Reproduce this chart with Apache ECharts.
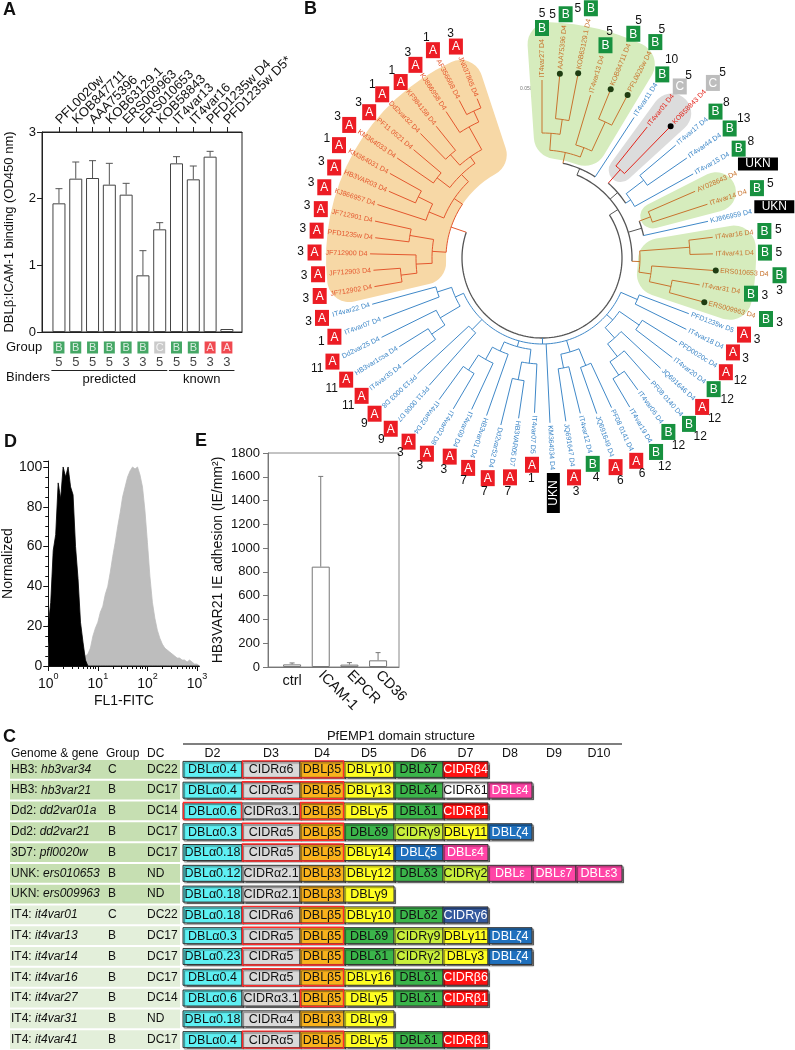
<!DOCTYPE html>
<html><head><meta charset="utf-8">
<script src="https://cdn.jsdelivr.net/npm/echarts@6/dist/echarts.min.js"></script>
<style>html,body{margin:0;padding:0;background:#fff}#c{width:795px;height:1050px}</style>
</head><body><div id="c"></div><script>
// ---------------- Panel A data ----------------
const aNames = ['PFL0020w','KOB847711','AAA75396','KOB63129.1','ERS009963','ERS010653','KOB58843','IT4var13','IT4var16','PFD1235w D4','PFD1235w D5*'];
const aValues = [1.93,2.30,2.31,2.21,2.06,0.85,1.54,2.53,2.29,2.63,0.045];
const aErrTop = [2.15,2.55,2.57,2.53,2.23,1.22,1.64,2.63,2.49,2.71,0.045];
const aGroups = ['B','B','B','B','B','B','C','B','B','A','A'];
const aDbl = [5,5,5,5,3,3,5,5,5,3,3];
const aRows = ['Group','DBL\u03b2','Binders'];
const aBinders = [['predicted',0,6],['known',7,10]];

// ---------------- Panel B data ----------------
const leafNames = ['IT4var27 D4','AAA75396 D4','KOB63129.1 D4','IT4var13 D4','KOB84711 D4','PFL0020w D4','IT4var11 D4','IT4var01 D4','KOB58843 D4','IT4var17 D4',
'IT4var44 D4','IT4var15 D4','AY028643 D4','IT4var14 D4','KJ866959 D4','IT4var16 D4','IT4var41 D4','ERS010653 D4','IT4var31 D4','ERS009963 D4',
'PFD1235w D5','IT4var18 D4','PFD0020c D4','IT4var20 D4','JQ691646 D4','PF08 0140 D4','IT4var06 D4','IT4var19 D4','PF08 0141 D4','JQ691649 D4',
'IT4var12 D4','JQ691647 D4','KM364034 D4','IT4var07 D5','HB3VAR05 D7','Dd2var52 D4','HB3var01 D4','IT4var09 D4','IT4var02 D8','IT4var02 D4',
'PF11 0008 D7','PF13 0003 D8','IT4var35 D4','HB3var1csa D4','Dd2var25 D4','IT4var07 D4','IT4var22 D4','JF712902 D4','JF712903 D4','JF712900 D4',
'PFD1235w D4','JF712901 D4','KJ866957 D4','HB3VAR03 D4','KM364031 D4','KM364033 D4','PF11 0521 D4','Dd2var32 D4','KF984158 D4','KJ866958 D4',
'AF356668 D4','JN037805 D4'];
const leafGroups = ['B','B','B','B','B','B','B','C','C','B', 'B','B','U','B','U','B','B','B','B','B',
'A','A','A','B','A','B','B','B','A','A', 'B','A','U','A','A','A','A','A','A','A',
'A','A','A','A','A','A','A','A','A','A', 'A','A','A','A','A','A','A','A','A','A', 'A','A'];
const leafNums = [5,5,5,5,5,5,10,5,5,8, 13,8,0,5,0,5,5,3,3,3, 3,3,12,12,12,12,12,12,6,6, 4,3,0,1,7,7,7,3,3,3,
9,9,11,11,11,1,3,3,3,3, 3,3,3,3,1,3,3,1,1,3, 1,3];
const leafClass = ['g','g','g','g','g','g','b','r','r','b', 'b','b','g','g','b','g','g','g','g','g',
'b','b','b','b','b','b','b','b','b','b', 'b','b','b','b','b','b','b','b','b','b',
'b','b','b','b','b','b','b','o','o','o', 'o','o','o','o','o','o','o','o','o','o', 'o','o'];
const tipR = [178,183,186,170,180,182,168,168,182,175, 176,173,167,174,170,172,171,172,160,166,
157,161,159,164,162,163,163,173,165,165, 160,165,165,155,162,172,167,167,175,175,
170,170,175,168,179,170,176,170,169,172, 168,171,173,167,174,176,168,174,169,175, 178,172];
const dotLeaves = [2,3,5,6,9,18,20];
// nested tree: [node radius, children...]; plain numbers are leaf ids
const tree = [80,
  [90, [97, [108, [125, 1, [140, 2, 3]], [118, 4, [150, 5, 6]]], 7],
       [100, [118, 8, 9], [106, [128, 10, 11], 12]],
       [104, [116, 13, 14], 15],
       [98, [148, 16, 17], [110, 18, [132, 19, 20]]]],
  [86, [104, 21, 22],
       [94, [118, 23, 24], [108, 25, [124, 26, [140, 27, 28]]]],
       [98, [116, 29, 30], [112, 31, 32]],
       33,
       [92, [106, 34, [124, 35, 36]], [102, 37, [116, 38, [134, 39, 40]]]],
       [100, 41, 42],
       [95, [118, [134, 43, 44], 45], [110, 46, 47]]],
  [96, [110, [126, [142, 48, 49], 50], [134, 51, 52]],
       [106, [122, 53, [138, 54, 55]], [116, [132, 56, 57], [124, [138, 58, 59], [150, 60, [162, 61, 62]]]]]]
];
// clade shading: [inner r, from slot, outer r, to slot, colour index]
const cladeBlobs = [[96,46.4,216,61.7,0],[100,-0.7,236,5.6,1],[106,6.5,214,8.6,2],[106,11.4,206,13.6,1],[96,14.5,214,19.6,1]];

// ---------------- Panel D data ----------------
const dX = [0.00,0.05,0.10,0.15,0.20,0.25,0.30,0.35,0.40,0.45,0.50,0.55,0.60,0.65,0.70,0.75,0.80,0.85,0.90,0.95,
1.00,1.05,1.10,1.15,1.20,1.25,1.30,1.35,1.40,1.45,1.50,1.55,1.60,1.65,1.70,1.75,1.80,1.85,1.90,1.95,
2.00,2.05,2.10,2.15,2.20,2.25,2.30,2.35,2.40,2.45,2.50,2.55,2.60,2.65,2.70,2.75,2.80,2.85,2.90,2.95,3.00,3.05];
const dBlack = [20,32,58,66,92,84,100,95,100,90,86,60,44,22,12,3,0,0,0,0,
0,0,0,0,0,0,0,0,0,0,0,0,0,0,0,0,0,0,0,0, 0,0,0,0,0,0,0,0,0,0,0,0,0,0,0,0,0,0,0,0,0,0];
const dGray = [10,16,22,28,33,38,41,40,37,33,27,20,15,10,7,5,6,9,15,19,
22,27,30,36,40,47,55,62,70,77,85,90,95,98,100,99,100,96,90,78,
62,45,32,24,18,14,11,9,8,7,6,5,4,4,3,3,2,3,2,1,1,0];

// ---------------- Panel E data ----------------
const eNames = ['ctrl','ICAM-1','EPCR','CD36'];
const eValues = [22,844,20,56];
const eErrTop = [34,1603,37,121];

// ---------------- Panel C data ----------------
const cGenome = ['HB3','HB3','Dd2','Dd2','3D7','UNK','UKN','IT4','IT4','IT4','IT4','IT4','IT4','IT4'];
const cGene = ['hb3var34','hb3var21','dd2var01a','dd2var21','pfl0020w','ers010653','ers009963','it4var01','it4var13','it4var14','it4var16','it4var27','it4var31','it4var41'];
const cGroup = ['C','B','B','B','B','B','B','C','B','B','B','B','B','B'];
const cDC = ['DC22','DC17','DC14','DC17','DC17','ND','ND','DC22','DC17','DC17','DC17','DC14','ND','DC17'];
const cDomains = [
 ['DBL\u03b10.4','CIDR\u03b16','DBL\u03b25','DBL\u03b310','DBL\u03b47','CIDR\u03b24'],
 ['DBL\u03b10.4','CIDR\u03b15','DBL\u03b25','DBL\u03b313','DBL\u03b44','CIDR\u03b41','DBL\u03b54'],
 ['DBL\u03b10.6','CIDR\u03b13.1','DBL\u03b25','DBL\u03b35','DBL\u03b41','CIDR\u03b21'],
 ['DBL\u03b10.3','CIDR\u03b15','DBL\u03b25','DBL\u03b49','CIDR\u03b39','DBL\u03b311','DBL\u03b64'],
 ['DBL\u03b10.18','CIDR\u03b15','DBL\u03b25','DBL\u03b314','DBL\u03b65','DBL\u03b54'],
 ['DBL\u03b10.12','CIDR\u03b12.1','DBL\u03b23','DBL\u03b312','DBL\u03b43','CIDR\u03b32','DBL\u03b5','DBL\u03b57','DBL\u03b53'],
 ['DBL\u03b10.18','CIDR\u03b12.1','DBL\u03b23','DBL\u03b39'],
 ['DBL\u03b10.18','CIDR\u03b16','DBL\u03b25','DBL\u03b310','DBL\u03b42','CIDR\u03b36'],
 ['DBL\u03b10.3','CIDR\u03b15','DBL\u03b25','DBL\u03b49','CIDR\u03b39','DBL\u03b311','DBL\u03b64'],
 ['DBL\u03b10.23','CIDR\u03b15','DBL\u03b25','DBL\u03b41','CIDR\u03b32','DBL\u03b33','DBL\u03b64'],
 ['DBL\u03b10.4','CIDR\u03b15','DBL\u03b25','DBL\u03b316','DBL\u03b41','CIDR\u03b26'],
 ['DBL\u03b10.6','CIDR\u03b13.1','DBL\u03b25','DBL\u03b35','DBL\u03b41','CIDR\u03b21'],
 ['DBL\u03b10.18','CIDR\u03b14','DBL\u03b23','DBL\u03b39'],
 ['DBL\u03b10.4','CIDR\u03b15','DBL\u03b25','DBL\u03b35','DBL\u03b41','CIDR\u03b21']
];
const cRedSpans = [[[1,2]],[[1,2]],[[0,0],[2,2]],[[1,2]],[[1,2]],[],[],[[1,2]],[[1,2]],[[1,2]],[[1,2]],[[2,2]],[],[[1,2]]];
const cColHeads = ['D2','D3','D4','D5','D6','D7','D8','D9','D10'];

// ---------------- styles / layout ----------------
const FF = "'Liberation Sans', Arial, Helvetica, sans-serif";
const FN = "'Liberation Sans Narrow', 'Arial Narrow', 'Liberation Sans', sans-serif";
const GC = {A:'#ec1c24', B:'#17913f', C:'#bdbdbd'};
const CLS = {o:'#e4572e', g:'#c8742e', b:'#3f88c8', r:'#e3241b', k:'#555555'};
const CLS_IDX = ['o','g','b','r','k'];
const BLOB_COL = ['#f7d8a6','#d6ecbd','#dcdcdc'];
const colEdges = [0,59,117,161,211,260,305,349,393,439];
const LEFT_FS = 12;
function domStyle(n){
  if (n === 'CIDR\u03b36') return ['#34599e','#fff'];
  const map = [['DBL\u03b1','#5ef0f3','#111'],['CIDR\u03b1','#d9d9d9','#111'],['DBL\u03b2','#f9b21c','#111'],['DBL\u03b3','#ffff22','#111'],
    ['DBL\u03b4','#3bb54a','#111'],['CIDR\u03b2','#ff1111','#fff'],['CIDR\u03b4','#ffffff','#111'],['DBL\u03b5','#ff45a6','#fff'],
    ['DBL\u03b6','#1f70bd','#fff'],['CIDR\u03b3','#c9f03c','#111']];
  for (const m of map) if (n.indexOf(m[0]) === 0) return [m[1], m[2]];
  return ['#fff','#111'];
}
const mctx = document.createElement('canvas').getContext('2d');
function textW(t, size, fam){ mctx.font = size + 'px ' + fam; return mctx.measureText(t).width; }

// tree -> segments
const segs = [];
function lay(node){
  if (typeof node === 'number') { const k = node - 1; return {a:k, r:tipR[k], cls:leafClass[k]}; }
  const r = node[0];
  const kids = node.slice(1).map(lay);
  const a1 = kids[0].a, a2 = kids[kids.length-1].a;
  const cls = kids.every(c => c.cls === kids[0].cls) ? kids[0].cls : 'k';
  segs.push([r, a1, r, a2, CLS_IDX.indexOf(cls), 1]);
  kids.forEach(c => segs.push([r, c.a, c.r, c.a, CLS_IDX.indexOf(c.cls), 0]));
  return {a:(a1+a2)/2, r:r, cls:cls};
}
lay(tree);

function errItem(color, cap){
  return function(params, api){
    const b = api.coord([api.value(0), api.value(1)]);
    const t = api.coord([api.value(0), api.value(2)]);
    if (t[1] >= b[1] - 0.5) return null;
    return {type:'group', children:[
      {type:'line', shape:{x1:b[0],y1:b[1],x2:t[0],y2:t[1]}, style:{stroke:color,lineWidth:1}},
      {type:'line', shape:{x1:t[0]-cap,y1:t[1],x2:t[0]+cap,y2:t[1]}, style:{stroke:color,lineWidth:1}}
    ]};
  };
}

function blobItem(params, api){
  const c = api.coord([0, 0]);
  const p0 = api.coord([api.value(0), api.value(1)]);
  const p1 = api.coord([api.value(2), api.value(3)]);
  const r0 = Math.hypot(p0[0]-c[0], p0[1]-c[1]);
  const r1 = Math.hypot(p1[0]-c[0], p1[1]-c[1]);
  let s = Math.atan2(p0[1]-c[1], p0[0]-c[0]);
  let e = Math.atan2(p1[1]-c[1], p1[0]-c[0]);
  if (e < s) e += Math.PI * 2;
  return {type:'sector', shape:{cx:c[0], cy:c[1], r0:r0, r:r1, startAngle:s, endAngle:e, clockwise:true, cornerRadius:Math.min(22,(r1-r0)/2-1)},
    style:{fill:BLOB_COL[api.value(4)]}};
}
function treeItem(params, api){
  const r1 = api.value(0), a1 = api.value(1), r2 = api.value(2), a2 = api.value(3);
  const col = CLS[CLS_IDX[api.value(4)]];
  if (api.value(5) === 0) {
    const p = api.coord([r1, a1]), q = api.coord([r2, a2]);
    return {type:'line', shape:{x1:p[0],y1:p[1],x2:q[0],y2:q[1]}, style:{stroke:col, lineWidth:1}};
  }
  const n = Math.max(2, Math.ceil(Math.abs(a2 - a1) * 3));
  const pts = [];
  for (let j = 0; j <= n; j++) pts.push(api.coord([r1, a1 + (a2 - a1) * j / n]));
  return {type:'polyline', shape:{points:pts}, style:{stroke:col, lineWidth: col === CLS.k ? 1.3 : 1, fill:null}};
}
function leafItem(params, api){
  const tr = api.value(0), s = api.value(1), k = api.value(2);
  const c = api.coord([0, s]);
  const far = api.coord([100, s]);
  const ang = Math.atan2(far[1]-c[1], far[0]-c[0]);
  const th = ((ang * 180 / Math.PI) + 90 + 720) % 360;
  const out = th < 230;
  const dot = dotLeaves.indexOf(k + 1) >= 0;
  const off = dot ? 6.5 : 2.5;
  const lp = api.coord([tr + off, s]);
  const name = leafNames[k];
  const w = textW(name, 7, FF);
  const ch = [];
  if (dot) {
    const dp = api.coord([tr + 2.2, s]);
    ch.push({type:'circle', shape:{cx:dp[0], cy:dp[1], r:3}, style:{fill: leafClass[k] === 'r' ? '#000' : '#1f3d12'}});
  }
  ch.push({type:'text', x:lp[0], y:lp[1], rotation: out ? -ang : Math.PI - ang,
    style:{text:name, fill:CLS[leafClass[k]], fontSize:7, fontFamily:FF, align: out ? 'left' : 'right', verticalAlign:'middle'}});
  const endR = tr + off + w;
  const g = leafGroups[k];
  if (g === 'U') {
    const vert = Math.abs(Math.sin(ang)) > 0.8;
    const bp = api.coord([endR + 23, s]);
    const bw = vert ? 13 : 40, bh = vert ? 40 : 13;
    ch.push({type:'rect', shape:{x:bp[0]-bw/2, y:bp[1]-bh/2, width:bw, height:bh}, style:{fill:'#000'}});
    ch.push({type:'text', x:bp[0], y:bp[1], rotation: vert ? Math.PI/2 : 0,
      style:{text:'UKN', fill:'#fff', fontSize:12, fontFamily:FF, align:'center', verticalAlign:'middle'}});
  } else {
    const br = endR + 11;
    const bp = api.coord([br, s]);
    ch.push({type:'rect', shape:{x:bp[0]-7, y:bp[1]-8, width:14, height:16}, style:{fill:GC[g]}});
    ch.push({type:'text', x:bp[0], y:bp[1]+0.5, style:{text:g, fill:'#fff', fontSize:12, fontFamily:FF, align:'center', verticalAlign:'middle'}});
    const n = leafNums[k];
    if (n) {
      let np = api.coord([br + (n > 9 ? 17 : 14), s]);
      if (np[1] < 8) np = [bp[0] - 13, bp[1]];
      if (np[0] > 789) np = [bp[0], bp[1] + 15];
      ch.push({type:'text', x:np[0], y:np[1], style:{text:String(n), fill:'#111', fontSize:12, fontFamily:FF, align:'center', verticalAlign:'middle'}});
    }
  }
  return {type:'group', children:ch};
}
function rowItem(params, api){
  const i = api.value(1);
  const p0 = api.coord([0, i]);
  const rowH = api.coord([0, 1])[1] - api.coord([0, 0])[1];
  const x0 = p0[0], yc = p0[1];
  const left = api.coord([-173, i])[0];
  const ch = [];
  ch.push({type:'rect', shape:{x:left, y:yc-rowH/2+1, width:x0-3-left, height:rowH-2}, style:{fill: i < 7 ? '#c6dfb2' : '#e3efda'}});
  ch.push({type:'text', x:left+1, y:yc, style:{text:'{n|' + cGenome[i] + ': }{i|' + cGene[i] + '}',
    rich:{n:{fontSize:LEFT_FS, fontFamily:FN, fill:'#111'}, i:{fontSize:LEFT_FS, fontFamily:FN, fontStyle:'italic', fill:'#111'}}, verticalAlign:'middle', align:'left'}});
  const gx = api.coord([-75, i])[0], dx = api.coord([-36, i])[0];
  ch.push({type:'text', x:gx, y:yc, style:{text:cGroup[i], fontSize:LEFT_FS, fontFamily:FN, fill:'#111', verticalAlign:'middle'}});
  ch.push({type:'text', x:dx, y:yc, style:{text:cDC[i], fontSize:LEFT_FS, fontFamily:FN, fill:'#111', verticalAlign:'middle'}});
  cDomains[i].forEach((d, j) => {
    const xa = api.coord([colEdges[j], i])[0], xb = api.coord([colEdges[j+1], i])[0];
    const st = domStyle(d);
    ch.push({type:'rect', shape:{x:xa, y:yc-8, width:xb-xa, height:16},
      style:{fill:st[0], stroke:'#333', lineWidth:1, shadowColor:'rgba(0,0,0,0.45)', shadowOffsetX:1.5, shadowOffsetY:1.5, shadowBlur:1}});
    ch.push({type:'text', x:(xa+xb)/2, y:yc+0.5, style:{text:d, fill:st[1], fontSize:12.5, fontFamily:FN, align:'center', verticalAlign:'middle'}});
  });
  cRedSpans[i].forEach(sp => {
    const xa = api.coord([colEdges[sp[0]], i])[0], xb = api.coord([colEdges[sp[1]+1], i])[0];
    ch.push({type:'rect', shape:{x:xa+0.5, y:yc-8.5, width:xb-xa-1, height:17}, style:{fill:null, stroke:'#ff2a2a', lineWidth:1.4}});
  });
  return {type:'group', children:ch};
}

const tickAll = aNames.map((_, i) => i);
const minorLog = [];
for (let d = 0; d < 3; d++) for (let m = 2; m <= 9; m++) minorLog.push(d + Math.log10(m));
const noSplit = {show:false};

const graphic = [
  {type:'text', left:520, top:86, style:{text:'0.050', fontSize:5, fill:'#777', fontFamily:FF}},
  {type:'line', shape:{x1:534,y1:83,x2:534,y2:96}, style:{stroke:'#888', lineWidth:0.8}},
  {type:'line', shape:{x1:531,y1:83,x2:534,y2:83}, style:{stroke:'#888', lineWidth:0.8}},
  {type:'line', shape:{x1:531,y1:96,x2:534,y2:96}, style:{stroke:'#888', lineWidth:0.8}},
  {type:'text', x:401, y:736, style:{text:'PfEMP1 domain structure', fontSize:13, fontFamily:FN, fill:'#111', align:'center', verticalAlign:'middle'}},
  {type:'line', shape:{x1:183,y1:744,x2:622,y2:744}, style:{stroke:'#555', lineWidth:1.5}},
  {type:'text', x:11, y:754, style:{text:'Genome & gene', fontSize:LEFT_FS, fontFamily:FN, fill:'#111', verticalAlign:'middle'}},
  {type:'text', x:106, y:754, style:{text:'Group', fontSize:LEFT_FS, fontFamily:FN, fill:'#111', verticalAlign:'middle'}},
  {type:'text', x:147, y:754, style:{text:'DC', fontSize:LEFT_FS, fontFamily:FN, fill:'#111', verticalAlign:'middle'}}
];
cColHeads.forEach((h, j) => graphic.push({type:'text', x:183 + (colEdges[j] + colEdges[j+1]) / 2, y:754,
  style:{text:h, fontSize:12.5, fontFamily:FN, fill:'#111', align:'center', verticalAlign:'middle'}}));

const letter = (t, l, tp) => ({text:t, left:l, top:tp, padding:0, textStyle:{fontSize:18, fontWeight:'bold', color:'#111', fontFamily:FF}});

const option = {
  animation:false,
  backgroundColor:'#fff',
  textStyle:{fontFamily:FF},
  title:[letter('A',3,1), letter('B',304,0), letter('D',4,433), letter('E',195,432), letter('C',3,728)],
  grid:[
    {left:42, top:132, width:200, height:200, show:true, borderColor:'#222', borderWidth:1, backgroundColor:'transparent'},
    {left:42, top:340, width:200, height:45},
    {left:47, top:461, width:152.5, height:205},
    {left:268, top:453, width:131, height:214, show:true, borderColor:'#888', borderWidth:1, backgroundColor:'transparent'},
    {left:183, top:759, width:439, height:291}
  ],
  xAxis:[
    {gridIndex:0, type:'value', min:-1.01, max:10.9, axisLine:{show:true, onZero:false, lineStyle:{color:'#222'}}, axisTick:{show:false}, axisLabel:{show:false}, splitLine:noSplit},
    {gridIndex:0, type:'value', position:'top', min:-1.01, max:10.9, axisLine:{show:true, onZero:false, lineStyle:{color:'#222'}},
      axisTick:{show:true, customValues:tickAll, length:5, lineStyle:{color:'#222'}},
      axisLabel:{show:false}, splitLine:noSplit},
    {gridIndex:1, type:'value', min:-1.01, max:10.9, show:false},
    {gridIndex:2, type:'value', position:'bottom', min:0, max:3.05, axisLine:{show:true, onZero:false, lineStyle:{color:'#111'}},
      axisTick:{show:true, customValues:[0,1,2,3], length:5, lineStyle:{color:'#111'}},
      axisLabel:{show:true, customValues:[0,1,2,3], margin:6, showMinLabel:true, showMaxLabel:true, formatter:v => '{b|10}{s|' + Math.round(v) + '}',
        rich:{b:{fontSize:14, color:'#111', padding:[5,0,0,0]}, s:{fontSize:9, color:'#111', verticalAlign:'top'}}},
      name:'FL1-FITC', nameLocation:'middle', nameGap:28, nameTextStyle:{fontSize:14, color:'#111'}, splitLine:noSplit},
    {gridIndex:2, type:'value', position:'bottom', min:0, max:3.05, axisLine:{show:false, onZero:false},
      axisTick:{show:true, customValues:minorLog, length:3, lineStyle:{color:'#111'}}, axisLabel:{show:false}, splitLine:noSplit},
    {gridIndex:3, type:'value', position:'bottom', min:-0.84, max:3.73, axisLine:{show:true, onZero:false, lineStyle:{color:'#777'}}, axisTick:{show:false},
      axisLabel:{show:true, customValues:[1,2,3], formatter:v => eNames[Math.round(v)], rotate:-45, fontSize:14.5, color:'#111', margin:6,
        showMinLabel:true, showMaxLabel:true}, splitLine:noSplit},
    {gridIndex:3, type:'value', position:'bottom', min:-0.84, max:3.73, axisLine:{show:false, onZero:false}, axisTick:{show:false},
      axisLabel:{show:true, customValues:[0], formatter:v => eNames[Math.round(v)], fontSize:14.5, color:'#111', margin:6, showMinLabel:true}, splitLine:noSplit},
    {gridIndex:4, type:'value', min:0, max:439, show:false}
  ],
  yAxis:[
    {gridIndex:0, type:'value', min:0, max:3, interval:1, axisLine:{show:true, onZero:false, lineStyle:{color:'#222'}},
      axisTick:{show:true, length:5, lineStyle:{color:'#222'}}, axisLabel:{fontSize:13, color:'#111', margin:6}, splitLine:noSplit,
      name:'DBL\u03b2:ICAM-1 binding (OD450 nm)', nameLocation:'middle', nameGap:26, nameTextStyle:{fontSize:13, color:'#111'}},
    {gridIndex:1, type:'category', data:aRows, inverse:true, axisLine:{show:false}, axisTick:{show:false},
      axisLabel:{fontSize:13, color:'#111', align:'left', margin:36}, splitLine:noSplit},
    {gridIndex:2, type:'value', min:0, max:103, interval:20, axisLine:{show:true, onZero:false, lineStyle:{color:'#111'}},
      axisTick:{show:true, length:5, lineStyle:{color:'#111'}}, minorTick:{show:true, splitNumber:4, length:3, lineStyle:{color:'#111'}},
      axisLabel:{fontSize:14, color:'#111', margin:6}, splitLine:noSplit, minorSplitLine:{show:false},
      name:'Normalized', nameLocation:'middle', nameGap:31, nameTextStyle:{fontSize:14, color:'#111'}},
    {gridIndex:3, type:'value', min:0, max:1800, interval:200, axisLine:{show:true, onZero:false, lineStyle:{color:'#777'}},
      axisTick:{show:true, length:5, lineStyle:{color:'#777'}}, axisLabel:{fontSize:13, color:'#111', margin:8, formatter:v => String(v)}, splitLine:noSplit,
      name:'HB3VAR21 IE adhesion (IE/mm\u00b2)', nameLocation:'middle', nameGap:43, nameTextStyle:{fontSize:14, color:'#111'}},
    {gridIndex:4, type:'category', data:cGene, inverse:true, show:false}
  ],
  polar:{center:[542,258], radius:260},
  angleAxis:{type:'value', min:0, max:65, startAngle:90, clockwise:true, show:false},
  radiusAxis:{type:'value', min:0, max:260, show:false},
  graphic:graphic,
  series:[
    // ---- A ----
    {type:'bar', xAxisIndex:0, yAxisIndex:0, data:aValues.map((v,i)=>[i,v]), barWidth:13, silent:true,
      itemStyle:{color:'#fff', borderColor:'#444', borderWidth:1}},
    {type:'custom', xAxisIndex:0, yAxisIndex:0, data:aValues.map((v,i)=>[i,v,aErrTop[i]]), encode:{x:0, y:[1,2]},
      renderItem:errItem('#555', 3.5), silent:true},
    // rotated category names above the top axis
    {type:'custom', xAxisIndex:0, yAxisIndex:0, silent:true, clip:false, data:aNames.map((n,i)=>[i,3]), encode:{x:0, y:1},
      renderItem:(params, api) => {
        const p = api.coord([api.value(0), api.value(1)]);
        return {type:'text', x:p[0]-1, y:p[1]-10, rotation:Math.PI/4,
          style:{text:aNames[params.dataIndex], fontSize:13, fontFamily:FF, fill:'#111', align:'left', verticalAlign:'middle'}};
      }},
    {type:'scatter', xAxisIndex:2, yAxisIndex:1, symbol:'rect', symbolSize:[11,12], silent:true,
      data:aGroups.map((g,i)=>({value:[i,0], itemStyle:{color:GC[g]}, label:{formatter:g}})),
      label:{show:true, position:'inside', color:'#fff', fontSize:11}},
    {type:'scatter', xAxisIndex:2, yAxisIndex:1, symbolSize:1, itemStyle:{color:'rgba(0,0,0,0)'}, silent:true,
      data:aDbl.map((d,i)=>({value:[i,1], label:{formatter:String(d)}})),
      label:{show:true, position:'inside', color:'#111', fontSize:13}},
    {type:'custom', xAxisIndex:2, yAxisIndex:1, silent:true, data:aBinders.map(b=>[b[1], 2, b[2]]), encode:{x:[0,2], y:1},
      renderItem:(params, api) => {
        const p1 = api.coord([api.value(0) - 0.45, 2]), p2 = api.coord([api.value(2) + 0.45, 2]);
        return {type:'group', children:[
          {type:'line', shape:{x1:p1[0], y1:p1[1]-7, x2:p2[0], y2:p1[1]-7}, style:{stroke:'#222', lineWidth:1}},
          {type:'text', x:(p1[0]+p2[0])/2, y:p1[1]+2, style:{text:aBinders[params.dataIndex][0], fontSize:13, fontFamily:FF, fill:'#111', align:'center', verticalAlign:'middle'}}
        ]};
      }},
    // ---- B ----
    {type:'custom', coordinateSystem:'polar', polarIndex:0, silent:true, clip:false, data:cladeBlobs, encode:{radius:[0,2], angle:[1,3]}, renderItem:blobItem, z:1},
    {type:'custom', coordinateSystem:'polar', polarIndex:0, silent:true, clip:false, data:segs, encode:{radius:[0,2], angle:[1,3]}, renderItem:treeItem, z:2},
    {type:'custom', coordinateSystem:'polar', polarIndex:0, silent:true, clip:false, data:tipR.map((r,k)=>[r,k,k]), encode:{radius:0, angle:1}, renderItem:leafItem, z:3},
    // ---- D ----
    {type:'line', xAxisIndex:3, yAxisIndex:2, data:dX.map((x,i)=>[x,dGray[i]]), symbol:'none', silent:true, z:2,
      lineStyle:{color:'#bdbdbd', width:0.8}, areaStyle:{color:'#bdbdbd', opacity:1}},
    {type:'line', xAxisIndex:3, yAxisIndex:2, data:dX.map((x,i)=>[x,dBlack[i]]), symbol:'none', silent:true, z:3,
      lineStyle:{color:'#000', width:0.8}, areaStyle:{color:'#000', opacity:1}},
    // ---- E ----
    {type:'bar', xAxisIndex:5, yAxisIndex:3, data:eValues.map((v,i)=>[i,v]), barWidth:18, silent:true,
      itemStyle:{color:'#fff', borderColor:'#777', borderWidth:1}},
    {type:'custom', xAxisIndex:5, yAxisIndex:3, data:eValues.map((v,i)=>[i,v,eErrTop[i]]), encode:{x:0, y:[1,2]},
      renderItem:errItem('#777', 2.5), silent:true},
    // ---- C ----
    {type:'custom', xAxisIndex:7, yAxisIndex:4, silent:true, clip:false, data:cGene.map((g,i)=>[0,i]), encode:{x:0, y:1}, renderItem:rowItem}
  ]
};
const chart = echarts.init(document.getElementById('c'));
chart.setOption(option);
</script></body></html>
